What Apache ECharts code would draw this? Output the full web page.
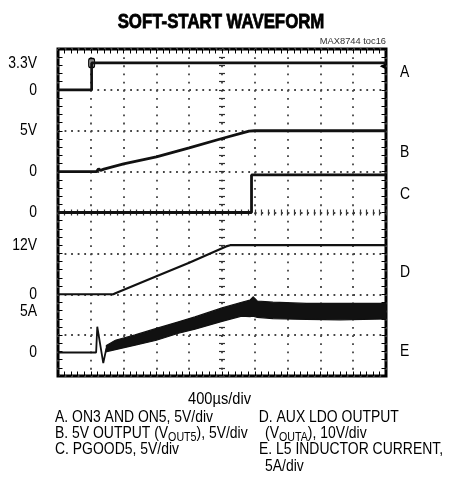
<!DOCTYPE html>
<html>
<head>
<meta charset="utf-8">
<script src="https://cdn.jsdelivr.net/npm/echarts@6/dist/echarts.min.js"></script>
<style>
  html, body { margin: 0; padding: 0; background: #fff; }
  #chart { width: 459px; height: 498px; }
</style>
</head>
<body>
<div id="chart"></div>
<script>
// ---- time base: 400 µs per division, 10 divisions ----
const timeMin = 0;
const timeMax = 4000;
const timeStep = 400;

// ---- channel settings (scale per division, screen offset of each zero) ----
const channelNames = ['A', 'B', 'C', 'D', 'E'];
const perDiv = [5, 5, 5, 10, 5];          // V/div (A/div for E)
const zeroDiv = [7, 5, 4, 2, 0.575];      // division on which each channel's zero sits
const screenDivs = 8;

// ---- level tick labels per channel ----
const levelValues = [[3.3, 0], [5, 0], [0], [12, 0], [5, 0]];
const levelTexts = [['3.3V', '0'], ['5V', '0'], ['0'], ['12V', '0'], ['5A', '0']];
const tagLevels = [2.2, 2.4, 2.2, 5.4, 0.2];   // where each channel letter sits

// ---- trigger indicators (channel A) ----
const triggerTime = 410;
const triggerTop = 3.3;
const triggerLevelTime = 3960;
const triggerLevel = 2.9;

// ---- A: ON3 and ON5 (V) ----
const timeA = [0, 410, 410, 4000];
const valA = [0, 0, 3.3, 3.3];

// ---- B: 5V output VOUT5 (V) ----
const timeB = [0, 470, 495, 520, 560, 800, 1200, 1600, 2000, 2240, 2330, 2400, 4000];
const valB = [0, 0, 0.35, 0.15, 0.3, 0.95, 1.8, 2.9, 4.05, 4.7, 4.95, 5.0, 5.0];

// ---- C: PGOOD5 (V) ----
const timeC = [0, 2360, 2360, 4000];
const valC = [0, 0, 4.6, 4.6];

// ---- D: AUX LDO output VOUTA (V) ----
const timeD = [0, 675, 700, 1200, 1600, 2050, 2100, 4000];
const valD = [0, 0, 0.25, 4.4, 7.7, 11.7, 12, 12];

// ---- E: L5 inductor current (A) — start-up kick, then ripple envelope ----
const timeEStart = [0, 465, 479, 552, 590];
const valEStart = [0, 0, 3.15, -1.3, 0.5];
const timeE = [590, 700, 940, 1200, 1470, 1670, 2000, 2240, 2340, 2380, 2430, 2620, 3030, 3440, 4000];
const lowE  = [0.1, 0.35, 0.9, 1.5, 2.35, 2.85, 3.8, 4.45, 4.4, 4.45, 4.3, 4.15, 4.05, 4.0, 4.1];
const highE = [0.85, 1.5, 2.15, 2.95, 3.75, 4.35, 5.45, 6.15, 6.4, 6.8, 6.3, 6.15, 6.0, 6.0, 6.0];

const FONT = "'Liberation Sans', Arial, sans-serif";
const SQUEEZE = 0.82;        // condensed lettering
const INK = '#111';

const pairs = (xs, ys) => xs.map((x, i) => [x, ys[i]]);

// condensed text element
function txt(x, y, text, o) {
  o = o || {};
  const style = {
    text: text, fill: o.fill || '#000', align: o.align || 'left', verticalAlign: 'middle',
    fontSize: o.fontSize || 17, fontWeight: o.fontWeight || 'normal', fontFamily: FONT,
    lineHeight: 20, rich: o.rich
  };
  if (o.heavy) { style.stroke = '#000'; style.lineWidth = o.heavy; }
  return { type: 'text', x: x, y: y, scaleX: o.scaleX || SQUEEZE, z: 20, silent: true, style: style };
}

function trace(ch, data, width, marks) {
  const s = {
    type: 'line',
    name: channelNames[ch],
    xAxisIndex: 0,
    yAxisIndex: 4 + ch,
    data: data,
    showSymbol: false,
    symbol: 'none',
    lineStyle: { color: INK, width: width },
    z: 5
  };
  if (marks) {
    s.markPoint = { silent: true, label: { show: false }, data: marks };
  }
  return s;
}

// channel axes: hidden, each placed so that its zero lands on zeroDiv
const channelAxes = channelNames.map((n, i) => ({
  type: 'value', show: false,
  min: -zeroDiv[i] * perDiv[i],
  max: (screenDivs - zeroDiv[i]) * perDiv[i]
}));

const tickStyleBorder = { color: '#000', width: 1 };
const tickStyleCenter = { color: '#333', width: 1.2 };
const dotStyle = { color: '#444', width: 1.8 };

function xTicks(extra) {
  return Object.assign({
    type: 'value', min: timeMin, max: timeMax, interval: timeStep,
    axisLine: { show: false, onZero: false },
    axisLabel: { show: false },
    splitLine: { show: false },
    axisTick: { show: true, inside: true, length: 4.5, lineStyle: tickStyleBorder },
    minorTick: { show: true, splitNumber: 5, length: 4.5, lineStyle: tickStyleBorder }
  }, extra);
}
function yTicks(extra) {
  return Object.assign({
    type: 'value', min: 0, max: screenDivs, interval: 1,
    axisLine: { show: false, onZero: false },
    axisLabel: { show: false },
    splitLine: { show: false },
    axisTick: { show: true, inside: true, length: 4.5, lineStyle: tickStyleBorder },
    minorTick: { show: true, splitNumber: 5, length: 4.5, lineStyle: tickStyleBorder }
  }, extra);
}
function centerTicks(inside) {
  return {
    axisTick: { show: true, inside: inside, length: 3, lineStyle: tickStyleCenter },
    minorTick: { show: true, splitNumber: 5, length: 3, lineStyle: tickStyleCenter }
  };
}

const gridLeft = 58, gridTop = 49, gridW = 328, gridH = 327;

const captionRich = {
  s: { fontSize: 13, lineHeight: 11, verticalAlign: 'bottom', fontFamily: FONT, fill: '#000' }
};
const captions = [
  [55, 417, 'A. ON3 AND ON5, 5V/div'],
  [55, 433.8, 'B. 5V OUTPUT (V{s|OUT5}), 5V/div'],
  [55, 449.5, 'C. PGOOD5, 5V/div'],
  [258.7, 417, 'D. AUX LDO OUTPUT'],
  [265, 433.8, '(V{s|OUTA}), 10V/div'],
  [259, 449.5, 'E. L5 INDUCTOR CURRENT,'],
  [265, 466, '5A/div']
];

const staticText = [
  txt(221, 22, 'SOFT-START WAVEFORM', { align: 'center', fontSize: 20.5, fontWeight: 'bold', heavy: 0.8 }),
  txt(386, 41.7, 'MAX8744 toc16', { align: 'right', fontSize: 9.3, fill: '#333', scaleX: 1 }),
  txt(219.5, 399.5, '400µs/div', { align: 'center', fontSize: 17, scaleX: 0.86 })
].concat(captions.map(([x, y, t]) => txt(x, y, t, { rich: captionRich })));

const option = {
  animation: false,
  backgroundColor: '#fff',
  grid: {
    left: gridLeft, top: gridTop, width: gridW, height: gridH,
    show: true, borderColor: '#000', borderWidth: 3, backgroundColor: 'transparent'
  },
  xAxis: [
    xTicks({
      position: 'bottom',
      splitLine: { show: true, lineStyle: Object.assign({ type: [1.8, 6.375] }, dotStyle) }
    }),
    xTicks({ position: 'top' }),
    xTicks(Object.assign({ position: 'bottom', offset: -gridH / 2 }, centerTicks(true))),
    xTicks(Object.assign({ position: 'bottom', offset: -gridH / 2 }, centerTicks(false)))
  ],
  yAxis: [
    yTicks({
      position: 'left',
      splitLine: { show: true, lineStyle: Object.assign({ type: [1.8, 4.76] }, dotStyle) }
    }),
    yTicks({ position: 'right' }),
    yTicks(Object.assign({ position: 'left', offset: -gridW / 2 }, centerTicks(true))),
    yTicks(Object.assign({ position: 'left', offset: -gridW / 2 }, centerTicks(false)))
  ].concat(channelAxes),
  series: [
    trace(0, pairs(timeA, valA), 2.7, [
      { coord: [triggerTime, triggerTop], symbol: 'roundRect', symbolSize: [6, 9],
        itemStyle: { color: '#888', borderColor: '#000', borderWidth: 1.2 } },
      { coord: [triggerLevelTime, triggerLevel], symbol: 'triangle', symbolRotate: 90, symbolSize: [6, 6],
        itemStyle: { color: '#000' } }
    ]),
    trace(1, pairs(timeB, valB), 2.8),
    trace(2, pairs(timeC, valC), 2.8),
    trace(3, pairs(timeD, valD), 2.2),
    trace(4, pairs(timeEStart, valEStart), 1.8),
    {
      // ripple envelope of the inductor current, filled between low and high edges
      type: 'custom', name: 'E ripple', xAxisIndex: 0, yAxisIndex: 8, z: 5,
      data: timeE.map((t, i) => [t, lowE[i], highE[i]]),
      encode: { x: 0, y: [1, 2] },
      renderItem: function (params, api) {
        if (params.dataIndex !== 0) return null;
        const top = timeE.map((t, i) => api.coord([t, highE[i]]));
        const bottom = timeE.map((t, i) => api.coord([t, lowE[i]])).reverse();
        return {
          type: 'polygon',
          shape: { points: top.concat(bottom) },
          style: { fill: INK, stroke: INK, lineWidth: 1.2 }
        };
      }
    }
  ],
  graphic: staticText
};

const chart = echarts.init(document.getElementById('chart'), null, { renderer: 'canvas' });
chart.setOption(option);

// level labels on the left edge and channel letters on the right edge
const levelText = [];
channelNames.forEach((name, ch) => {
  levelValues[ch].forEach((v, k) => {
    const p = chart.convertToPixel({ seriesIndex: ch }, [timeMin, v]);
    levelText.push(txt(p[0] - 21, p[1], levelTexts[ch][k], { align: 'right' }));
  });
  const q = chart.convertToPixel({ seriesIndex: ch }, [timeMax, tagLevels[ch]]);
  levelText.push(txt(q[0] + 14, q[1], name, { align: 'left' }));
});
chart.setOption({ graphic: staticText.concat(levelText) });
</script>
</body>
</html>
